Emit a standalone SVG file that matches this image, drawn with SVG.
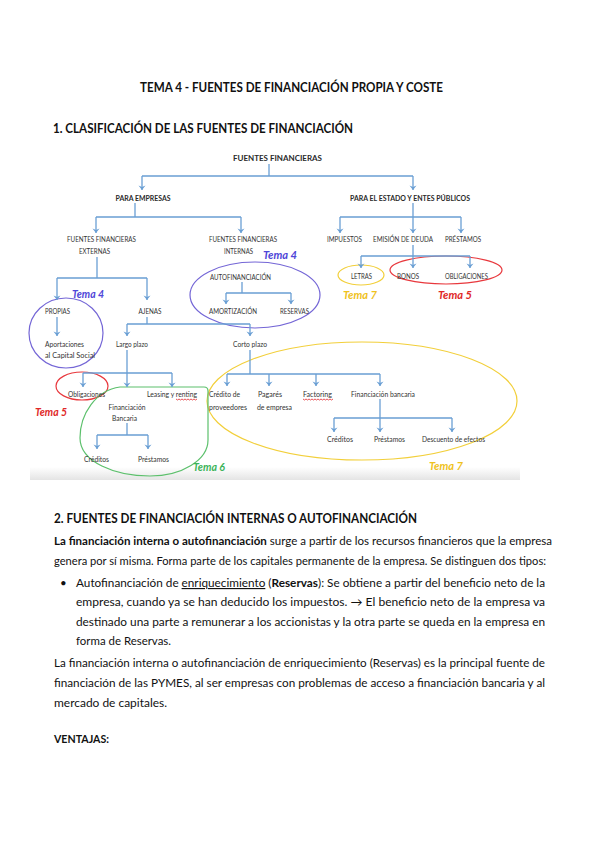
<svg xmlns="http://www.w3.org/2000/svg" width="599" height="848" viewBox="0 0 599 848">
<defs>
<style>
.t{font-family:Lato,"Liberation Sans",sans-serif;fill:#111}
.tb{font-family:Lato,"Liberation Sans",sans-serif;fill:#111;font-weight:bold}
.body{font-family:Lato,"Liberation Sans",sans-serif;font-size:11.5px;fill:#111}
.n{font-family:Lato,"Liberation Sans",sans-serif;font-size:7.5px;fill:#333}
.nb{font-family:Lato,"Liberation Sans",sans-serif;font-size:7px;fill:#2a2a2a;font-weight:bold}
.tema{font-family:Lato,"Liberation Sans",sans-serif;font-size:10.5px;font-style:italic;font-weight:bold}
.c{fill:none;stroke:#6a9fd4;stroke-width:1.3}
.a{fill:none;stroke:#6a9fd4;stroke-width:1.3;marker-end:url(#arr)}
.hl{fill:none;stroke-width:1.2}
.wavy{fill:none;stroke:#e0282d;stroke-width:0.8}
</style>
<marker id="arr" markerUnits="userSpaceOnUse" viewBox="-5 -4 6 8" markerWidth="6" markerHeight="8" refX="0" refY="0" orient="auto">
<path d="M-4.5,-3.5 L0,0 L-4.5,3.5 L-3,0 Z" fill="#6a9fd4"/>
</marker>
<linearGradient id="shade" x1="0" y1="0" x2="0" y2="1">
<stop offset="0" stop-color="#ffffff"/>
<stop offset="1" stop-color="#e4e4e4"/>
</linearGradient>
</defs>
<rect width="599" height="848" fill="#ffffff"/>

<g id="page-text">
<text class="tb" x="140" y="92" font-size="12.5" textLength="303" lengthAdjust="spacingAndGlyphs">TEMA 4 - FUENTES DE FINANCIACIÓN PROPIA Y COSTE</text>
<text class="tb" x="53" y="133" font-size="13" textLength="300" lengthAdjust="spacingAndGlyphs">1. CLASIFICACIÓN DE LAS FUENTES DE FINANCIACIÓN</text>
</g>

<rect x="30" y="467" width="490" height="13" fill="url(#shade)"/>

<g id="highlights">
<ellipse class="hl" cx="66" cy="333" rx="37" ry="35" stroke="#7466d6"/>
<ellipse class="hl" cx="255" cy="295" rx="65" ry="33" stroke="#7466d6"/>
<ellipse class="hl" cx="361" cy="275" rx="23" ry="10" stroke="#f2cf3a"/>
<ellipse class="hl" cx="446" cy="270" rx="56" ry="14" stroke="#e8383d"/>
<ellipse class="hl" cx="82" cy="386" rx="26" ry="14" stroke="#e8383d"/>
<ellipse class="hl" cx="362" cy="401" rx="155" ry="59" stroke="#f2cf3a"/>
<path class="hl" stroke="#5cc06c" d="M120,387 L204,387 Q208,387 208,391 L208,440 C208,460 182,476 150,476 C115,476 80,462 80,438 C80,414 96,390 120,387 Z"/>
</g>

<g id="connectors">
<path class="c" d="M269,164 V176 M142,176 H413"/>
<path class="a" d="M142,176 V190"/>
<path class="a" d="M413,176 V190"/>
<path class="c" d="M135,203 V217 M96,217 H241"/>
<path class="a" d="M96,217 V233"/>
<path class="a" d="M241,217 V233"/>
<path class="c" d="M413,203 V217 M340,217 H461"/>
<path class="a" d="M340,217 V233"/>
<path class="a" d="M413,217 V233"/>
<path class="a" d="M461,217 V233"/>
<path class="c" d="M413,245 V256 M361,256 H470"/>
<path class="a" d="M361,256 V268"/>
<path class="a" d="M413,256 V268"/>
<path class="a" d="M470,256 V268"/>
<path class="c" d="M97,257 V278 M57,278 H147"/>
<path class="a" d="M57,278 V300"/>
<path class="a" d="M147,278 V300"/>
<path class="a" d="M57,317 V336"/>
<path class="c" d="M147,317 V324 M127,324 H250"/>
<path class="a" d="M127,324 V336"/>
<path class="a" d="M250,324 V336"/>
<path class="c" d="M242,282 V293 M226,293 H291"/>
<path class="a" d="M226,293 V304"/>
<path class="a" d="M291,293 V304"/>
<path class="c" d="M127,350 V373 M83,373 H172"/>
<path class="a" d="M83,373 V387"/>
<path class="a" d="M127,373 V387"/>
<path class="a" d="M172,373 V387"/>
<path class="c" d="M127,423 V435 M97,435 H148"/>
<path class="a" d="M97,435 V449"/>
<path class="a" d="M148,435 V449"/>
<path class="c" d="M250,350 V374 M227,374 H380"/>
<path class="a" d="M227,374 V386"/>
<path class="a" d="M269,374 V386"/>
<path class="a" d="M316,374 V386"/>
<path class="a" d="M380,374 V386"/>
<path class="c" d="M380,399 V418 M334,418 H452"/>
<path class="a" d="M334,418 V432"/>
<path class="a" d="M380,418 V432"/>
<path class="a" d="M452,418 V432"/>
</g>

<g id="n-fuentes"><text class="nb" font-size="8" x="277.5" y="161" text-anchor="middle" textLength="89" lengthAdjust="spacingAndGlyphs">FUENTES FINANCIERAS</text></g>
<g id="n-para-empresas"><text class="nb" font-size="6.5" x="143" y="200.5" text-anchor="middle" textLength="55" lengthAdjust="spacingAndGlyphs">PARA EMPRESAS</text></g>
<g id="n-para-estado"><text class="nb" font-size="6.5" x="410" y="200.5" text-anchor="middle" textLength="120" lengthAdjust="spacingAndGlyphs">PARA EL ESTADO Y ENTES PÚBLICOS</text></g>
<g id="n-externas">
<text class="n" x="101.5" y="241.5" text-anchor="middle" textLength="69" lengthAdjust="spacingAndGlyphs">FUENTES FINANCIERAS</text>
<text class="n" x="94.5" y="253.5" text-anchor="middle" textLength="31" lengthAdjust="spacingAndGlyphs">EXTERNAS</text>
</g>
<g id="n-internas">
<text class="n" x="243" y="241.5" text-anchor="middle" textLength="68" lengthAdjust="spacingAndGlyphs">FUENTES FINANCIERAS</text>
<text class="n" x="238.5" y="253.5" text-anchor="middle" textLength="29" lengthAdjust="spacingAndGlyphs">INTERNAS</text>
</g>
<g id="n-impuestos"><text class="n" x="344.5" y="241.5" text-anchor="middle" textLength="35" lengthAdjust="spacingAndGlyphs">IMPUESTOS</text></g>
<g id="n-emision"><text class="n" x="403" y="241.5" text-anchor="middle" textLength="60" lengthAdjust="spacingAndGlyphs">EMISIÓN DE DEUDA</text></g>
<g id="n-prestamos-est"><text class="n" x="463" y="241.5" text-anchor="middle" textLength="36" lengthAdjust="spacingAndGlyphs">PRÉSTAMOS</text></g>
<g id="n-letras"><text class="n" x="361.5" y="279" text-anchor="middle" textLength="21" lengthAdjust="spacingAndGlyphs">LETRAS</text></g>
<g id="n-bonos"><text class="n" x="408" y="279" text-anchor="middle" textLength="22" lengthAdjust="spacingAndGlyphs">BONOS</text></g>
<g id="n-obligaciones-est"><text class="n" x="466.5" y="279" text-anchor="middle" textLength="43" lengthAdjust="spacingAndGlyphs">OBLIGACIONES</text></g>
<g id="n-autofin"><text class="n" x="240.5" y="279.5" text-anchor="middle" textLength="61" lengthAdjust="spacingAndGlyphs">AUTOFINANCIACIÓN</text></g>
<g id="n-amortizacion"><text class="n" x="233" y="313.5" text-anchor="middle" textLength="48" lengthAdjust="spacingAndGlyphs">AMORTIZACIÓN</text></g>
<g id="n-reservas"><text class="n" x="294.5" y="313.5" text-anchor="middle" textLength="29" lengthAdjust="spacingAndGlyphs">RESERVAS</text></g>
<g id="n-propias"><text class="n" x="57.5" y="314" text-anchor="middle" textLength="25" lengthAdjust="spacingAndGlyphs">PROPIAS</text></g>
<g id="n-ajenas"><text class="n" x="150" y="314" text-anchor="middle" textLength="23" lengthAdjust="spacingAndGlyphs">AJENAS</text></g>
<g id="n-aportaciones">
<text class="n" x="45" y="346.5" textLength="39" lengthAdjust="spacingAndGlyphs">Aportaciones</text>
<text class="n" x="45" y="357.5" textLength="50" lengthAdjust="spacingAndGlyphs">al Capital Social</text>
</g>
<g id="n-largo"><text class="n" x="132" y="346.5" text-anchor="middle" textLength="32" lengthAdjust="spacingAndGlyphs">Largo plazo</text></g>
<g id="n-corto"><text class="n" x="250" y="346.5" text-anchor="middle" textLength="34" lengthAdjust="spacingAndGlyphs">Corto plazo</text></g>
<g id="n-obligaciones"><text class="n" x="86.5" y="396.5" text-anchor="middle" textLength="37" lengthAdjust="spacingAndGlyphs">Obligaciones</text></g>
<g id="n-leasing"><text class="n" x="172" y="396.5" text-anchor="middle" textLength="50" lengthAdjust="spacingAndGlyphs">Leasing y renting</text>
<path class="wavy" d="M176,399 l1.5,1 l1.5,-1 l1.5,1 l1.5,-1 l1.5,1 l1.5,-1 l1.5,1 l1.5,-1 l1.5,1 l1.5,-1 l1.5,1 l1.5,-1 l1.5,1 l1.5,-1"/>
</g>
<g id="n-fin-bancaria-lp">
<text class="n" x="127" y="409.5" text-anchor="middle" textLength="37" lengthAdjust="spacingAndGlyphs">Financiación</text>
<text class="n" x="124.5" y="420.5" text-anchor="middle" textLength="25" lengthAdjust="spacingAndGlyphs">Bancaria</text>
</g>
<g id="n-creditos-lp"><text class="n" x="96.5" y="461.5" text-anchor="middle" textLength="25" lengthAdjust="spacingAndGlyphs">Créditos</text></g>
<g id="n-prestamos-lp"><text class="n" x="153.5" y="461.5" text-anchor="middle" textLength="31" lengthAdjust="spacingAndGlyphs">Préstamos</text></g>
<g id="n-credito-prov">
<text class="n" x="209" y="396.5" textLength="31" lengthAdjust="spacingAndGlyphs">Crédito de</text>
<text class="n" x="209" y="409.5" textLength="38" lengthAdjust="spacingAndGlyphs">proveedores</text>
</g>
<g id="n-pagares">
<text class="n" x="258" y="396.5" textLength="24" lengthAdjust="spacingAndGlyphs">Pagarés</text>
<text class="n" x="257" y="409.5" textLength="35" lengthAdjust="spacingAndGlyphs">de empresa</text>
</g>
<g id="n-factoring"><text class="n" x="317.5" y="396.5" text-anchor="middle" textLength="29" lengthAdjust="spacingAndGlyphs">Factoring</text>
<path class="wavy" d="M303,399 l1.5,1 l1.5,-1 l1.5,1 l1.5,-1 l1.5,1 l1.5,-1 l1.5,1 l1.5,-1 l1.5,1 l1.5,-1 l1.5,1 l1.5,-1 l1.5,1 l1.5,-1 l1.5,1 l1.5,-1 l1.5,1 l1.5,-1 l1.5,1 l1.5,-1"/>
</g>
<g id="n-fin-bancaria-cp"><text class="n" x="383" y="396.5" text-anchor="middle" textLength="64" lengthAdjust="spacingAndGlyphs">Financiación bancaria</text></g>
<g id="n-creditos-cp"><text class="n" x="340" y="441.5" text-anchor="middle" textLength="26" lengthAdjust="spacingAndGlyphs">Créditos</text></g>
<g id="n-prestamos-cp"><text class="n" x="389.5" y="441.5" text-anchor="middle" textLength="31" lengthAdjust="spacingAndGlyphs">Préstamos</text></g>
<g id="n-descuento"><text class="n" x="453.5" y="441.5" text-anchor="middle" textLength="63" lengthAdjust="spacingAndGlyphs">Descuento de efectos</text></g>

<g id="tema-labels">
<text class="tema" fill="#4f46d8" x="280" y="259" text-anchor="middle" textLength="34" lengthAdjust="spacingAndGlyphs">Tema 4</text>
<text class="tema" fill="#4f46d8" x="88" y="298" text-anchor="middle" textLength="32" lengthAdjust="spacingAndGlyphs">Tema 4</text>
<text class="tema" fill="#efc21e" x="360" y="299" text-anchor="middle" textLength="34" lengthAdjust="spacingAndGlyphs">Tema 7</text>
<text class="tema" fill="#e02828" x="455" y="299" text-anchor="middle" textLength="34" lengthAdjust="spacingAndGlyphs">Tema 5</text>
<text class="tema" fill="#e02828" x="51" y="416" text-anchor="middle" textLength="32" lengthAdjust="spacingAndGlyphs">Tema 5</text>
<text class="tema" fill="#3cb45a" x="209" y="471" text-anchor="middle" textLength="32" lengthAdjust="spacingAndGlyphs">Tema 6</text>
<text class="tema" fill="#efc21e" x="446" y="470" text-anchor="middle" textLength="34" lengthAdjust="spacingAndGlyphs">Tema 7</text>
</g>

<g id="section-2">
<text class="tb" x="54" y="523" font-size="13.5" textLength="363" lengthAdjust="spacingAndGlyphs">2. FUENTES DE FINANCIACIÓN INTERNAS O AUTOFINANCIACIÓN</text>
<text class="body" x="54" y="545" textLength="498" lengthAdjust="spacingAndGlyphs"><tspan font-weight="bold">La financiación interna o autofinanciación</tspan> surge a partir de los recursos financieros que la empresa</text>
<text class="body" x="54" y="565" textLength="492" lengthAdjust="spacingAndGlyphs">genera por sí misma. Forma parte de los capitales permanente de la empresa. Se distinguen dos tipos:</text>
<text class="body" x="60" y="587" font-size="10">•</text>
<text class="body" x="76" y="587" textLength="469" lengthAdjust="spacingAndGlyphs">Autofinanciación de <tspan text-decoration="underline">enriquecimiento</tspan> (<tspan font-weight="bold">Reservas</tspan>): Se obtiene a partir del beneficio neto de la</text>
<text class="body" x="76" y="606" textLength="469" lengthAdjust="spacingAndGlyphs">empresa, cuando ya se han deducido los impuestos. → El beneficio neto de la empresa va</text>
<text class="body" x="76" y="626" textLength="469" lengthAdjust="spacingAndGlyphs">destinado una parte a remunerar a los accionistas y la otra parte se queda en la empresa en</text>
<text class="body" x="76" y="645" textLength="95" lengthAdjust="spacingAndGlyphs">forma de Reservas.</text>
<text class="body" x="54" y="667" textLength="491" lengthAdjust="spacingAndGlyphs">La financiación interna o autofinanciación de enriquecimiento (Reservas) es la principal fuente de</text>
<text class="body" x="54" y="687" textLength="491" lengthAdjust="spacingAndGlyphs">financiación de las PYMES, al ser empresas con problemas de acceso a financiación bancaria y al</text>
<text class="body" x="54" y="707" textLength="113" lengthAdjust="spacingAndGlyphs">mercado de capitales.</text>
<text class="body" x="54" y="743" font-weight="bold" textLength="55" lengthAdjust="spacingAndGlyphs">VENTAJAS:</text>
</g>
</svg>
